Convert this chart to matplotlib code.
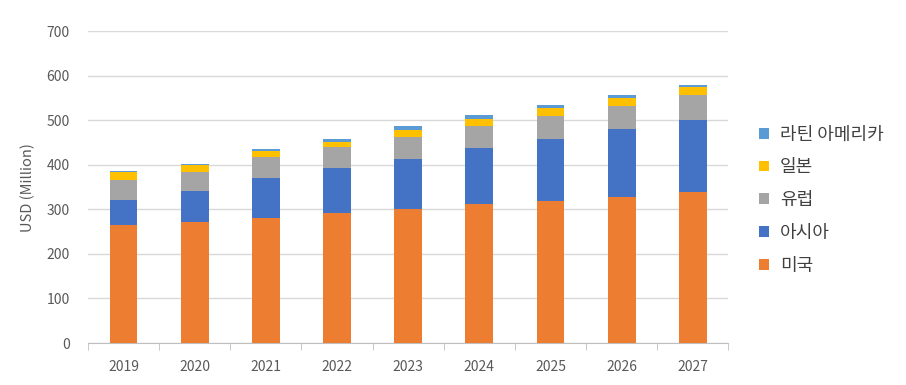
import matplotlib
matplotlib.use("Agg")
import matplotlib.pyplot as plt
import numpy as np

plt.rcParams["font.family"] = ["Noto Sans CJK KR", "DejaVu Sans"]

years = ["2019", "2020", "2021", "2022", "2023", "2024", "2025", "2026", "2027"]
# stacked from bottom to top (USD million)
us = [265, 272, 281, 291, 301, 311, 319, 328, 338]
asia = [56, 69, 90, 101, 113, 127, 138, 153, 162]
europe = [45, 43, 46, 48, 49, 50, 52, 52, 56]
japan = [17, 15, 15, 11, 16, 16, 18, 17, 18]
latam = [3, 2, 3, 6, 8, 7, 7, 7, 6]

series = [
    ("미국", us, "#ED7D31"),
    ("아시아", asia, "#4472C4"),
    ("유럽", europe, "#A5A5A5"),
    ("일본", japan, "#FFC000"),
    ("라틴 아메리카", latam, "#5B9BD5"),
]

fig = plt.figure(figsize=(9.06, 3.85), dpi=100)
ax = fig.add_axes([0.097, 0.109, 0.707, 0.81])

x = np.arange(len(years))
bottom = np.zeros(len(years))
handles = []
for name, vals, color in series:
    h = ax.bar(x, vals, width=0.39, bottom=bottom, color=color, label=name, zorder=3)
    handles.append(h)
    bottom += np.array(vals)

ax.set_ylim(0, 700)
ax.set_xlim(-0.5, len(years) - 0.5)
ax.set_yticks(range(0, 701, 100))
ax.yaxis.grid(True, color="#D9D9D9", lw=1, zorder=0)
ax.set_axisbelow(True)

for s in ["top", "right", "left"]:
    ax.spines[s].set_visible(False)
ax.spines["bottom"].set_color("#BFBFBF")

ax.set_xticks(x)
ax.set_xticklabels(years)
ax.set_xticks(np.arange(-0.5, len(years), 1.0), minor=True)
ax.tick_params(axis="x", which="major", length=0, pad=12, labelsize=10, labelcolor="#595959")
ax.tick_params(axis="x", which="minor", length=5, color="#BFBFBF")
ax.tick_params(axis="y", length=0, pad=13, labelsize=10, labelcolor="#595959")

ax.set_ylabel("USD (Million)", fontsize=10.5, color="#595959", labelpad=8)

fig.legend(handles[::-1], [s[0] for s in series][::-1],
           loc="center left", bbox_to_anchor=(0.82, 0.48),
           frameon=False, fontsize=13, labelcolor="#404040",
           handlelength=0.55, handleheight=0.55, handletextpad=0.6,
           labelspacing=0.82)

fig.savefig("out.png", dpi=100)
